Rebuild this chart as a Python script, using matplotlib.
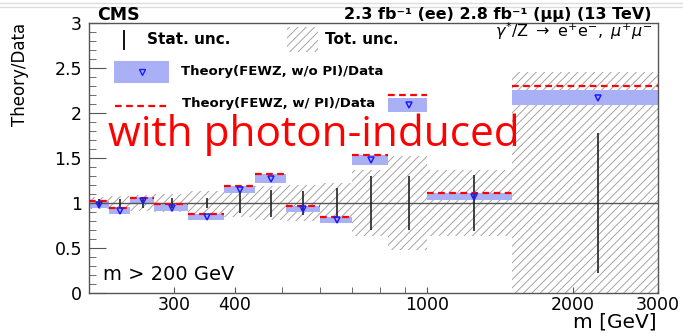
import matplotlib
matplotlib.use("Agg")
import matplotlib.pyplot as plt
import numpy as np
from matplotlib.patches import Rectangle
from matplotlib.lines import Line2D
from matplotlib.ticker import FixedLocator, FixedFormatter, NullFormatter, MultipleLocator, FuncFormatter

# Mass bins [GeV] and ratios per bin
mass_edges = [200, 220, 243, 273, 320, 380, 440, 510, 600, 700, 830, 1000, 1500, 3000]
theory_no_pi = [0.983, 0.915, 1.024, 0.948, 0.843, 1.15, 1.27, 0.935, 0.81, 1.48, 2.09, 1.07, 2.17]
theory_no_pi_unc = [0.04, 0.037, 0.039, 0.037, 0.032, 0.042, 0.05, 0.035, 0.032, 0.055, 0.08, 0.037, 0.083]
theory_with_pi = [1.02, 0.95, 1.06, 0.985, 0.875, 1.19, 1.32, 0.967, 0.841, 1.533, 2.2, 1.108, 2.3]
stat_unc = [0.04, 0.05, 0.05, 0.055, 0.06, 0.115, 0.15, 0.133, 0.17, 0.30, 0.30, 0.31, 0.78]
tot_unc = [0.07, 0.08, 0.09, 0.10, 0.13, 0.15, 0.19, 0.20, 0.22, 0.37, 0.52, 0.37, 1.46]

x_ticks = [300, 400, 1000, 2000, 3000]
x_tick_labels = ["300", "400", "1000", "2000", "3000"]
x_minor_ticks = [500, 600, 700, 800, 900]

plt.rcParams["font.family"] = ["DejaVu Sans"]
plt.rcParams["hatch.linewidth"] = 0.7
plt.rcParams["hatch.color"] = "#a4a4a4"
plt.rcParams["mathtext.fontset"] = "dejavusans"

W, H = 683, 333
fig = plt.figure(figsize=(W / 100, H / 100), dpi=100)
ax = fig.add_axes([89 / W, 40 / H, 569 / W, 270 / H])

lo = np.array(mass_edges[:-1], dtype=float)
hi = np.array(mass_edges[1:], dtype=float)
width = hi - lo
centers = (lo + hi) / 2

nopi = np.array(theory_no_pi)
nopi_u = np.array(theory_no_pi_unc)
tot = np.array(tot_unc)
stat = np.array(stat_unc)

# total uncertainty band (hatched)
ax.bar(lo, 2 * tot, bottom=1 - tot, width=width, align="edge", fill=False,
       hatch="////", edgecolor="#a4a4a4", linewidth=0, zorder=1)
# theory without photon-induced contribution
ax.bar(lo, 2 * nopi_u, bottom=nopi - nopi_u, width=width, align="edge",
       color="#aab0f6", linewidth=0, zorder=2)
ax.axhline(1, color="#555555", lw=1.0, zorder=3)
# statistical uncertainty of data
ax.vlines(centers, 1 - stat, 1 + stat, color="#222222", lw=1.2, zorder=4)
# theory with photon-induced contribution
ax.hlines(theory_with_pi, lo, hi, colors="#ff0000", linestyles=(0, (3, 2)), lw=1.6, zorder=5)
ax.plot(centers, nopi, linestyle="none", marker="v", mfc="none", mec="#1a1aff",
        ms=5, mew=1.1, zorder=6)

ax.set_xscale("log")
ax.set_xlim(200, 3000)
ax.set_ylim(0, 3)
ax.xaxis.set_major_locator(FixedLocator(x_ticks))
ax.xaxis.set_major_formatter(FixedFormatter(x_tick_labels))
ax.xaxis.set_minor_locator(FixedLocator(x_minor_ticks))
ax.xaxis.set_minor_formatter(NullFormatter())
ax.yaxis.set_major_locator(MultipleLocator(0.5))
ax.yaxis.set_minor_locator(MultipleLocator(0.1))
ax.yaxis.set_major_formatter(FuncFormatter(lambda v, p: f"{v:g}"))

ax.tick_params(which="both", direction="in", color="#555555", top=False, right=False,
               labelsize=12.5, labelcolor="black")
ax.tick_params(axis="y", which="major", length=12, pad=5)
ax.tick_params(axis="y", which="minor", length=5)
ax.tick_params(axis="x", which="major", length=4, pad=2)
ax.tick_params(axis="x", which="minor", length=4)
for s in ax.spines.values():
    s.set_color("#555555")
    s.set_linewidth(1.0)


def axp(px, py):
    return (px - 89) / 569, (293 - py) / 270


# legend
tA = ax.transAxes
x0, y0 = axp(124, 31)
x1, y1 = axp(124, 49)
ax.add_line(Line2D([x0, x1], [y0, y1], transform=tA, color="#111111", lw=1.4, zorder=10))
tx, ty = axp(147, 40)
ax.text(tx, ty, "Stat. unc.", transform=tA, fontsize=11, fontweight="bold", va="center", ha="left", zorder=10)
rx, ry = axp(287, 52)
ax.add_patch(Rectangle((rx, ry), 31 / 569, 25 / 270, transform=tA, fill=False, hatch="////",
                       edgecolor="#a4a4a4", linewidth=0, zorder=10))
tx, ty = axp(325, 40)
ax.text(tx, ty, "Tot. unc.", transform=tA, fontsize=11, fontweight="bold", va="center", ha="left", zorder=10)
bx, by = axp(114, 83)
ax.add_patch(Rectangle((bx, by), 55 / 569, 22 / 270, transform=tA, facecolor="#aab0f6",
                       linewidth=0, zorder=10))
mx, my = axp(141.5, 72)
ax.plot([mx], [my], transform=tA, marker="v", mfc="none", mec="#1a1aff", ms=4, mew=1.0, zorder=11)
tx, ty = axp(181, 72)
ax.text(tx, ty, "Theory(FEWZ, w/o PI)/Data", transform=tA, fontsize=9.5, fontweight="bold",
        va="center", ha="left", zorder=10)
lx0, ly = axp(115, 106)
lx1, _ = axp(168, 106)
ax.add_line(Line2D([lx0, lx1], [ly, ly], transform=tA, color="#ff0000", lw=1.6,
                   linestyle=(0, (3, 2)), zorder=10))
tx, ty = axp(182, 104)
ax.text(tx, ty, "Theory(FEWZ, w/ PI)/Data", transform=tA, fontsize=9.5, fontweight="bold",
        va="center", ha="left", zorder=10)

tx, ty = axp(103, 280.5)
ax.text(tx, ty, "m > 200 GeV", transform=tA, fontsize=14, va="baseline", ha="left", zorder=10)
tx, ty = axp(652, 37.5)
ax.text(tx, ty,
        r"$\gamma^{*}/\mathrm{Z}\ \rightarrow\ \mathrm{e}^{+}\mathrm{e}^{-},\ \mu^{+}\mu^{-}$",
        transform=tA, fontsize=11.5, va="baseline", ha="right", zorder=10)

# header
fig.text(97 / W, (H - 19.5) / H, "CMS", fontsize=12.5, fontweight="bold", va="baseline", ha="left")
fig.text(652 / W, (H - 19.5) / H, "2.3 fb\u207b\u00b9 (ee) 2.8 fb\u207b\u00b9 (\u03bc\u03bc) (13 TeV)",
         fontsize=11.5, fontweight="bold", va="baseline", ha="right")

# axis titles
fig.text(657 / W, (H - 327) / H, "m [GeV]", fontsize=14.5, va="baseline", ha="right")
fig.text(20 / W, (H - 23) / H, "Theory/Data", fontsize=12, rotation=90, va="top", ha="center")

# annotation
fig.text(108 / W, (H - 146) / H, "with photon-induced", fontsize=30.5, color="#ff0000",
         family=["Open Sans", "DejaVu Sans"], va="baseline", ha="left", zorder=20)

# faint frame lines along the top edge
for yy in (2.5, 6.5):
    fig.add_artist(Line2D([0, 1], [(H - yy) / H] * 2, transform=fig.transFigure,
                          color="#dddddd", lw=1.0))

fig.savefig("out.png", dpi=100, facecolor="white")
